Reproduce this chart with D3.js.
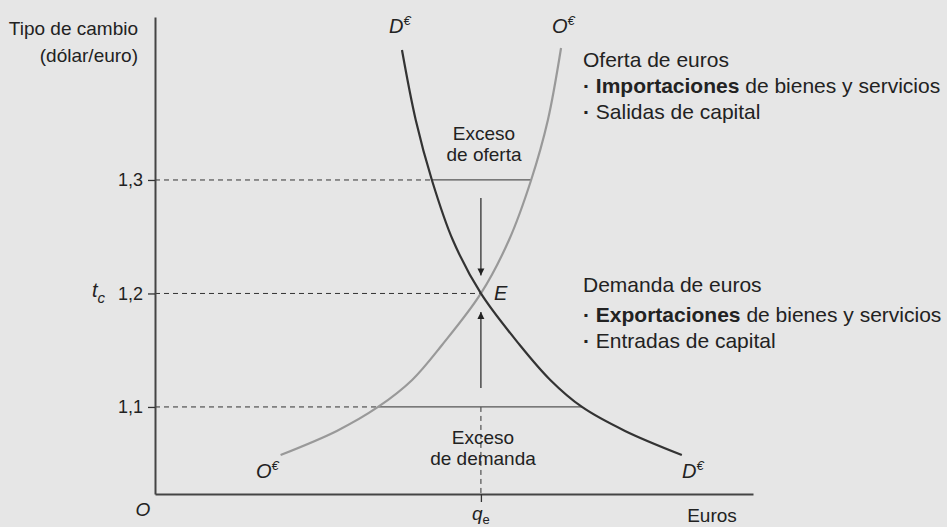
<!DOCTYPE html>
<html>
<head>
<meta charset="utf-8">
<script src="https://cdn.jsdelivr.net/npm/d3@7"></script>
<style>
  body { margin: 0; background: #e6e6e6; }
  svg { display: block; background: #e6e6e6; font-family: "Liberation Sans", Arial, sans-serif; }
  text { fill: #222; }
</style>
</head>
<body>
<div id="chart"></div>
<script>
// Curve points: [euros, dollar/euro]
let demandPoints = [[41.3, 1.4145], [43.6, 1.3529], [46.3, 1.3], [49.8, 1.2471], [54.5, 1.2],
    [61.0, 1.1546], [66.1, 1.1238], [71.4, 1.1], [78.6, 1.0789], [88.1, 1.0577]];
let supplyPoints = [[21.0, 1.0577], [30.4, 1.0789], [37.3, 1.1], [43.0, 1.1238], [48.0, 1.1546],
    [54.5, 1.2], [59.2, 1.2471], [62.9, 1.3], [65.7, 1.3529], [67.9, 1.4163]];

// rate levels and their labels
let levels = [1.1, 1.2, 1.3];
let levelLabels = ["1,1", "1,2", "1,3"];

// equilibrium
let qe = 54.5;
let tc = 1.2;

// excess gaps: [rate, supply x, demand x]
let excessSupply = [1.3, 46.3, 62.9];
let excessDemand = [1.1, 37.3, 71.4];

// arrows [from, to] in rate units
let arrowDown = [1.2841, 1.2159];
let arrowUp = [1.1167, 1.1837];

let svgWidth = 947;
let svgHeight = 527;

let svg = d3.select("#chart")
    .append("svg")
    .attr("width", svgWidth)
    .attr("height", svgHeight);

let x = d3.scaleLinear().domain([0, 100]).range([155, 753]);
let y = d3.scaleLinear().domain([1.0233, 1.4436]).range([494, 17]);

// arrow head
svg.append("defs").append("marker")
    .attr("id", "head")
    .attr("viewBox", "0 0 10 10")
    .attr("refX", 10).attr("refY", 5)
    .attr("markerWidth", 7).attr("markerHeight", 12)
    .attr("markerUnits", "userSpaceOnUse")
    .attr("orient", "auto")
    .append("path")
    .attr("d", "M0,0 L10,5 L0,10 Z")
    .attr("fill", "#222");

// dashed guides to the axis
let guideEnds = [excessDemand[1], qe, excessSupply[1]];
svg.selectAll(".guide")
    .data(levels)
    .enter()
    .append("line")
    .attr("x1", x(0))
    .attr("x2", (d, i) => x(guideEnds[i]))
    .attr("y1", d => y(d))
    .attr("y2", d => y(d))
    .attr("stroke", "#333")
    .attr("stroke-width", 1)
    .attr("stroke-dasharray", "5,4");

svg.append("line")
    .attr("x1", x(qe)).attr("x2", x(qe))
    .attr("y1", y(excessDemand[0])).attr("y2", y.range()[0])
    .attr("stroke", "#333")
    .attr("stroke-width", 1)
    .attr("stroke-dasharray", "5,4");

// excess bars
[excessSupply, excessDemand].forEach(function(e) {
    svg.append("line")
        .attr("x1", x(e[1])).attr("x2", x(e[2]))
        .attr("y1", y(e[0])).attr("y2", y(e[0]))
        .attr("stroke", "#555")
        .attr("stroke-width", 1.3);
});

// curves
let line = d3.line()
    .x(d => x(d[0]))
    .y(d => y(d[1]))
    .curve(d3.curveCatmullRom.alpha(0.5));

svg.append("path")
    .attr("d", line(supplyPoints))
    .attr("fill", "none")
    .attr("stroke", "#999")
    .attr("stroke-width", 2.2);

svg.append("path")
    .attr("d", line(demandPoints))
    .attr("fill", "none")
    .attr("stroke", "#333")
    .attr("stroke-width", 2.2);

// arrows
[arrowDown, arrowUp].forEach(function(a) {
    svg.append("line")
        .attr("x1", x(qe)).attr("x2", x(qe))
        .attr("y1", y(a[0])).attr("y2", y(a[1]))
        .attr("stroke", "#222")
        .attr("stroke-width", 1.2)
        .attr("marker-end", "url(#head)");
});

// axes
let leftAxis = d3.axisLeft(y)
    .tickValues(levels)
    .tickSize(7)
    .tickSizeOuter(0)
    .tickPadding(5)
    .tickFormat((d, i) => levelLabels[i]);

let yAxisG = svg.append("g")
    .attr("transform", `translate(${x(0)}, 0)`)
    .call(leftAxis);

let bottomAxis = d3.axisBottom(x)
    .tickValues([qe])
    .tickSize(8)
    .tickSizeOuter(0)
    .tickFormat("");

let xAxisG = svg.append("g")
    .attr("transform", `translate(0, ${y.range()[0]})`)
    .call(bottomAxis);

[yAxisG, xAxisG].forEach(function(g) {
    g.select(".domain").attr("stroke", "#444").attr("stroke-width", 2);
    g.selectAll(".tick line").attr("stroke", "#333").attr("stroke-width", 1.3);
});
yAxisG.selectAll(".tick text")
    .attr("font-size", 18)
    .attr("font-family", "Liberation Sans, Arial, sans-serif")
    .attr("fill", "#222");

// axis titles
svg.append("text")
    .attr("x", 138).attr("y", 35)
    .attr("text-anchor", "end")
    .attr("font-size", 19)
    .text("Tipo de cambio");
svg.append("text")
    .attr("x", 138).attr("y", 62)
    .attr("text-anchor", "end")
    .attr("font-size", 19)
    .text("(dólar/euro)");

svg.append("text")
    .attr("x", 712).attr("y", 522)
    .attr("text-anchor", "middle")
    .attr("font-size", 19)
    .text("Euros");

svg.append("text")
    .attr("x", 143).attr("y", 516)
    .attr("text-anchor", "middle")
    .attr("font-size", 19)
    .attr("font-style", "italic")
    .text("O");

// q_e and t_c
let qeText = svg.append("text")
    .attr("x", x(qe)).attr("y", 520)
    .attr("text-anchor", "middle")
    .attr("font-size", 19)
    .attr("font-style", "italic");
qeText.append("tspan").text("q");
qeText.append("tspan").attr("font-size", 13).attr("dy", 4).attr("font-style", "normal").text("e");

let tcText = svg.append("text")
    .attr("x", 92).attr("y", y(tc) + 4)
    .attr("font-size", 20)
    .attr("font-style", "italic");
tcText.append("tspan").text("t");
tcText.append("tspan").attr("font-size", 15).attr("dy", 6).text("c");

svg.append("text")
    .attr("x", x(qe) + 13).attr("y", y(tc) + 7)
    .attr("font-size", 20)
    .attr("font-style", "italic")
    .text("E");

// curve labels
function curveLabel(letter, px, py) {
    let t = svg.append("text")
        .attr("x", px).attr("y", py)
        .attr("font-size", 20)
        .attr("font-style", "italic");
    t.append("tspan").text(letter);
    t.append("tspan").attr("font-size", 13).attr("dy", -8).text("€");
}
curveLabel("D", 389, 33);
curveLabel("O", 552, 33);
curveLabel("O", 256, 478);
curveLabel("D", 682, 478);

// excess labels
function twoLines(lines, cx, baseY) {
    lines.forEach(function(s, i) {
        svg.append("text")
            .attr("x", cx).attr("y", baseY + i * 21)
            .attr("text-anchor", "middle")
            .attr("font-size", 19)
            .text(s);
    });
}
twoLines(["Exceso", "de oferta"], 484, 140);
twoLines(["Exceso", "de demanda"], 483, 444);

// right-hand notes
function note(title, boldWord, rest, second, topY, gap) {
    svg.append("text")
        .attr("x", 583).attr("y", topY)
        .attr("font-size", 21)
        .text(title);
    let b = svg.append("text")
        .attr("x", 583).attr("y", topY + gap)
        .attr("font-size", 21);
    b.append("tspan").attr("font-weight", "bold").text("· ");
    b.append("tspan").attr("font-weight", "bold").text(boldWord);
    b.append("tspan").text(" " + rest);
    let s = svg.append("text")
        .attr("x", 583).attr("y", topY + gap + 26)
        .attr("font-size", 21);
    s.append("tspan").attr("font-weight", "bold").text("· ");
    s.append("tspan").text(second);
}
note("Oferta de euros", "Importaciones", "de bienes y servicios", "Salidas de capital", 67, 26);
note("Demanda de euros", "Exportaciones", "de bienes y servicios", "Entradas de capital", 292, 30);
</script>
</body>
</html>
